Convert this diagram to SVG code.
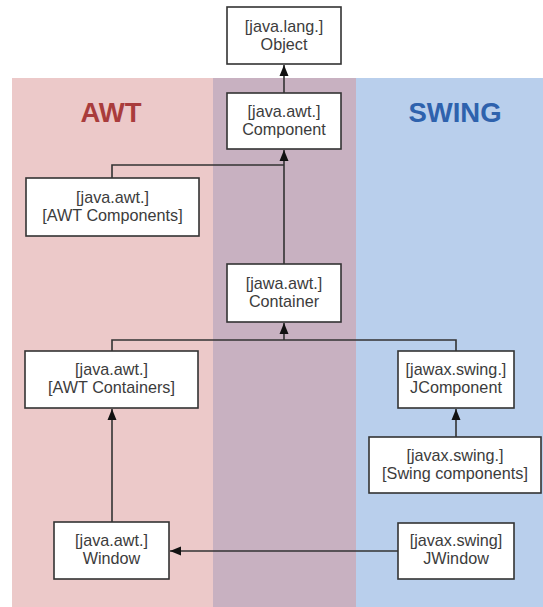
<svg xmlns="http://www.w3.org/2000/svg" width="543" height="607" viewBox="0 0 543 607">
<style>
.box{fill:#ffffff;stroke:#333333;stroke-width:1.6}
.t{font-family:"Liberation Sans",Arial,sans-serif;font-size:16.2px;fill:#3c3c3c;text-anchor:middle}
.h{font-family:"Liberation Sans",Arial,sans-serif;font-size:27.5px;font-weight:bold;text-anchor:middle}
.c{fill:none;stroke:#333333;stroke-width:1.6}
</style>
<defs>
<marker id="arr" markerUnits="userSpaceOnUse" markerWidth="12" markerHeight="10" refX="11" refY="5" orient="auto">
<path d="M0,0.5 L11,5 L0,9.5 z" fill="#111111"/>
</marker>
</defs>
<g id="backgrounds">
<rect x="12" y="78" width="201" height="529" fill="#ecc9c9"/>
<rect x="213" y="78" width="143" height="529" fill="#c8b1c1"/>
<rect x="356" y="78" width="187" height="529" fill="#b9cfec"/>
<text class="h" x="111" y="122" fill="#a93c3c">AWT</text>
<text class="h" x="455" y="122" fill="#2e62ad">SWING</text>
</g>
<g id="connectors">
<path class="c" d="M284,93 V65" marker-end="url(#arr)"/>
<path class="c" d="M112,178 V165 H284"/>
<path class="c" d="M284,264 V150" marker-end="url(#arr)"/>
<path class="c" d="M112,351 V340 H456 V351"/>
<path class="c" d="M284,340 V323" marker-end="url(#arr)"/>
<path class="c" d="M112,522 V409" marker-end="url(#arr)"/>
<path class="c" d="M456,437 V409" marker-end="url(#arr)"/>
<path class="c" d="M398,551 H170" marker-end="url(#arr)"/>
</g>
<g id="object">
<rect class="box" x="227" y="7" width="114" height="57"/>
<text class="t" x="284" y="32">[java.lang.]</text>
<text class="t" x="284" y="50">Object</text>
</g>
<g id="component">
<rect class="box" x="227" y="93" width="114" height="56"/>
<text class="t" x="284" y="117">[java.awt.]</text>
<text class="t" x="284" y="135">Component</text>
</g>
<g id="awt-components">
<rect class="box" x="26" y="178" width="173" height="58"/>
<text class="t" x="112.5" y="203">[java.awt.]</text>
<text class="t" x="112.5" y="221">[AWT Components]</text>
</g>
<g id="container">
<rect class="box" x="227" y="264" width="114" height="58"/>
<text class="t" x="284" y="289">[jawa.awt.]</text>
<text class="t" x="284" y="307">Container</text>
</g>
<g id="awt-containers">
<rect class="box" x="25" y="351" width="173" height="57"/>
<text class="t" x="111.5" y="375">[java.awt.]</text>
<text class="t" x="111.5" y="393">[AWT Containers]</text>
</g>
<g id="jcomponent">
<rect class="box" x="398" y="351" width="116" height="57"/>
<text class="t" x="456" y="375">[jawax.swing.]</text>
<text class="t" x="456" y="393">JComponent</text>
</g>
<g id="swing-components">
<rect class="box" x="369" y="437" width="172" height="56"/>
<text class="t" x="455" y="461">[javax.swing.]</text>
<text class="t" x="455" y="479">[Swing components]</text>
</g>
<g id="window">
<rect class="box" x="54" y="522" width="115" height="57"/>
<text class="t" x="111.5" y="546">[java.awt.]</text>
<text class="t" x="111.5" y="564">Window</text>
</g>
<g id="jwindow">
<rect class="box" x="398" y="523" width="116" height="56"/>
<text class="t" x="456" y="546">[javax.swing]</text>
<text class="t" x="456" y="564">JWindow</text>
</g>
</svg>
